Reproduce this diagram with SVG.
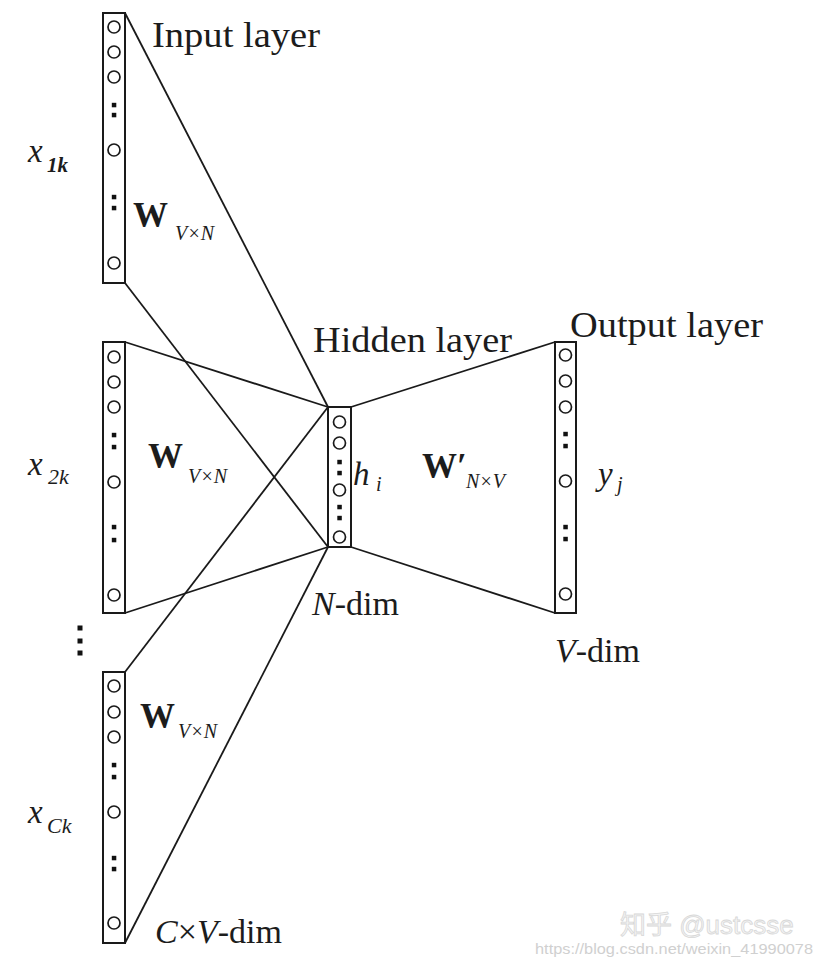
<svg xmlns="http://www.w3.org/2000/svg" width="816" height="965" viewBox="0 0 816 965">
<style>
.box{fill:#fff;stroke:#1a1a1a;stroke-width:2}
.n{fill:#fff;stroke:#1a1a1a;stroke-width:1.7}
.d{fill:#111}
.ln{stroke:#1a1a1a;stroke-width:1.8;fill:none}
.t{font-family:"Liberation Serif","Times New Roman",serif;fill:#1c1c1c}
.i{font-style:italic}
.b{font-weight:bold}
.wm{font-family:"Liberation Sans",Arial,"Noto Sans CJK SC",sans-serif}
</style>
<rect width="816" height="965" fill="#fff"/>
<g id="connectors">
<line class="ln" x1="125" y1="13" x2="328" y2="407"/>
<line class="ln" x1="125" y1="283" x2="328" y2="547"/>
<line class="ln" x1="125" y1="342" x2="328" y2="407"/>
<line class="ln" x1="125" y1="613" x2="328" y2="547"/>
<line class="ln" x1="125" y1="672" x2="328" y2="407"/>
<line class="ln" x1="125" y1="943" x2="328" y2="547"/>
<line class="ln" x1="351" y1="407" x2="555" y2="342"/>
<line class="ln" x1="351" y1="547" x2="555" y2="613"/>
</g>
<g id="input1">
<rect class="box" x="103" y="13" width="22" height="270"/>
<circle class="n" cx="114" cy="27" r="6"/>
<circle class="n" cx="114" cy="52" r="6"/>
<circle class="n" cx="114" cy="77" r="6"/>
<rect class="d" x="111.8" y="102.8" width="4.5" height="4.5"/>
<rect class="d" x="111.8" y="112.8" width="4.5" height="4.5"/>
<circle class="n" cx="114" cy="150" r="6"/>
<rect class="d" x="111.8" y="194.8" width="4.5" height="4.5"/>
<rect class="d" x="111.8" y="205.8" width="4.5" height="4.5"/>
<circle class="n" cx="114" cy="263" r="6"/>
</g>
<g id="input2">
<rect class="box" x="103" y="342" width="22" height="271"/>
<circle class="n" cx="114" cy="357" r="6"/>
<circle class="n" cx="114" cy="382" r="6"/>
<circle class="n" cx="114" cy="407" r="6"/>
<rect class="d" x="111.8" y="432.8" width="4.5" height="4.5"/>
<rect class="d" x="111.8" y="444.8" width="4.5" height="4.5"/>
<circle class="n" cx="114" cy="482" r="6"/>
<rect class="d" x="111.8" y="524.8" width="4.5" height="4.5"/>
<rect class="d" x="111.8" y="537.8" width="4.5" height="4.5"/>
<circle class="n" cx="114" cy="595" r="6"/>
</g>
<g id="input3">
<rect class="box" x="103" y="672" width="22" height="271"/>
<circle class="n" cx="114" cy="686" r="6"/>
<circle class="n" cx="114" cy="712" r="6"/>
<circle class="n" cx="114" cy="737" r="6"/>
<rect class="d" x="111.8" y="762.8" width="4.5" height="4.5"/>
<rect class="d" x="111.8" y="774.8" width="4.5" height="4.5"/>
<circle class="n" cx="114" cy="812" r="6"/>
<rect class="d" x="111.8" y="855.8" width="4.5" height="4.5"/>
<rect class="d" x="111.8" y="866.8" width="4.5" height="4.5"/>
<circle class="n" cx="114" cy="923" r="6"/>
</g>
<g id="hidden">
<rect class="box" x="328" y="407" width="23" height="140"/>
<circle class="n" cx="339.5" cy="422" r="6"/>
<circle class="n" cx="339.5" cy="443" r="6"/>
<rect class="d" x="337.3" y="459.8" width="4.5" height="4.5"/>
<rect class="d" x="337.3" y="470.8" width="4.5" height="4.5"/>
<circle class="n" cx="339.5" cy="490" r="6"/>
<rect class="d" x="337.3" y="504.8" width="4.5" height="4.5"/>
<rect class="d" x="337.3" y="515.8" width="4.5" height="4.5"/>
<circle class="n" cx="339.5" cy="537" r="6"/>
</g>
<g id="output">
<rect class="box" x="555" y="342" width="21" height="271"/>
<circle class="n" cx="565.5" cy="355" r="6"/>
<circle class="n" cx="565.5" cy="381" r="6"/>
<circle class="n" cx="565.5" cy="407" r="6"/>
<rect class="d" x="563.3" y="431.8" width="4.5" height="4.5"/>
<rect class="d" x="563.3" y="443.8" width="4.5" height="4.5"/>
<circle class="n" cx="565.5" cy="481" r="6"/>
<rect class="d" x="563.3" y="524.8" width="4.5" height="4.5"/>
<rect class="d" x="563.3" y="536.8" width="4.5" height="4.5"/>
<circle class="n" cx="565.5" cy="594" r="6"/>
</g>
<g id="vdots">
<rect class="d" x="77.5" y="625.5" width="5" height="5"/>
<rect class="d" x="77.5" y="638.5" width="5" height="5"/>
<rect class="d" x="77.5" y="650.5" width="5" height="5"/>
</g>
<g id="labels">
<text class="t" x="152" y="47" font-size="36" textLength="168" lengthAdjust="spacingAndGlyphs">Input layer</text>
<text class="t" x="313" y="352" font-size="36" textLength="199" lengthAdjust="spacingAndGlyphs">Hidden layer</text>
<text class="t" x="570" y="337" font-size="36" textLength="193" lengthAdjust="spacingAndGlyphs">Output layer</text>

<text class="t i" x="28" y="162" font-size="33">x</text>
<text class="t i b" x="47" y="172" font-size="21">1k</text>
<text class="t i" x="28" y="475" font-size="33">x</text>
<text class="t i" x="48" y="484" font-size="22">2k</text>
<text class="t i" x="28" y="823" font-size="33">x</text>
<text class="t i" x="47" y="833" font-size="22">Ck</text>

<text class="t b" x="133" y="227" font-size="35">W</text>
<text class="t i" x="175" y="240" font-size="20" fill="#555">V×N</text>
<text class="t b" x="148" y="468" font-size="35">W</text>
<text class="t i" x="188" y="483" font-size="20" fill="#555">V×N</text>
<text class="t b" x="140" y="728" font-size="35">W</text>
<text class="t i" x="178" y="738" font-size="20" fill="#555">V×N</text>

<text class="t i" x="353" y="485" font-size="33">h</text>
<text class="t i" x="376" y="491" font-size="20">i</text>
<text class="t b" x="422" y="478" font-size="35">W′</text>
<text class="t i" x="466" y="488" font-size="20" fill="#555">N×V</text>
<text class="t i" x="598" y="485" font-size="33">y</text>
<text class="t i" x="617" y="491" font-size="20">j</text>

<text class="t" x="312" y="615" font-size="34"><tspan class="i">N</tspan>-dim</text>
<text class="t" x="555" y="662" font-size="34"><tspan class="i">V</tspan>-dim</text>
<text class="t" x="155" y="943" font-size="34"><tspan class="i">C</tspan>×<tspan class="i">V</tspan>-dim</text>
</g>
<g id="watermark">
<text class="wm" x="620" y="934" font-size="26" fill="#f4f4f4" stroke="#d8d8d8" stroke-width="0.8">知乎 @ustcsse</text>
<text class="wm" x="535" y="954" font-size="14" fill="#d0d0d0" textLength="278" lengthAdjust="spacingAndGlyphs">https://blog.csdn.net/weixin_41990078</text>
</g>
</svg>
